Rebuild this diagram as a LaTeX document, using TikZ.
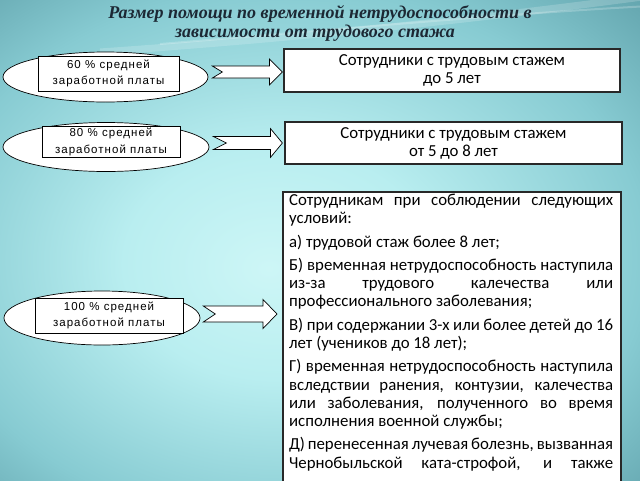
\documentclass[tikz,border=0pt]{standalone}
\usepackage{fontspec}
\setmainfont{Carlito}
\newfontfamily\titlefont{Liberation Serif}
\newfontfamily\smallfont[LetterSpace=9]{Liberation Sans}
\usetikzlibrary{calc,shapes.geometric}

\definecolor{titlecol}{RGB}{28,40,52}
\definecolor{framecol}{RGB}{40,40,40}
\definecolor{bgA}{RGB}{205,246,246}
\definecolor{bgB}{RGB}{185,238,240}
\definecolor{bgC}{RGB}{135,203,210}
\definecolor{bgD}{RGB}{85,150,160}
\definecolor{bgE}{RGB}{60,120,130}
\definecolor{bgF}{RGB}{45,95,105}
\pgfdeclareradialshading{bgshade}{\pgfpoint{-4bp}{-3bp}}{color(0bp)=(bgA); color(12bp)=(bgB); color(28bp)=(bgC); color(42bp)=(bgD); color(55bp)=(bgE); color(72bp)=(bgF)}

\newcommand{\blockarr}[6]{%
  \draw[barrow] ($(#1)+(0,-#4)$) -- ($(#2)+(-#3,-#4)$) -- ($(#2)+(-#3,-#5)$) -- (#2)
    -- ($(#2)+(-#3,#5)$) -- ($(#2)+(-#3,#4)$) -- ($(#1)+(0,#4)$) -- ($(#1)+(#6,0)$) -- cycle;}

\begin{document}
\begin{tikzpicture}[x=1pt,y=-1pt,
  ell/.style={ellipse, draw=black, line width=0.7pt, fill=white, inner sep=0pt},
  inbox/.style={draw=black, line width=0.7pt, fill=white, align=center, inner sep=0pt,
    font=\smallfont\fontsize{11.5}{16.5}\selectfont},
  mainbox/.style={draw=framecol, line width=1.2pt, fill=white, inner sep=0pt, align=center,
    font=\fontsize{16.8}{18}\selectfont},
  barrow/.style={draw=black, line width=0.7pt, fill=white, line join=miter},
  titletext/.style={font=\titlefont\bfseries\itshape\fontsize{18}{21}\selectfont, text=titlecol, inner sep=0pt}
]
\useasboundingbox (0,0) rectangle (640,480);
\clip (0,0) rectangle (640,480);
\shade[shading=bgshade] (0,0) rectangle (640,480);
% faint swooshes
\draw[white, opacity=.18, line width=7pt] (100,52) .. controls (300,38) and (470,20) .. (650,-4);
\draw[white, opacity=.22, line width=2pt] (160,44) .. controls (330,30) and (500,14) .. (650,6);

% title
\node[titletext] (t1) at (320,14) {Размер помощи по временной нетрудоспособности в};
\node[titletext] (t2) at (315,33) {зависимости от трудового стажа};

% ellipses
\node[ell, minimum width=205pt, minimum height=50pt] (e1) at (105.5,77) {};
\node[inbox, minimum width=141pt, minimum height=35pt] (r1) at (108.5,73.5) {60 \% средней\\заработной платы};
\node[ell, minimum width=206pt, minimum height=49pt] (e2) at (106,147) {};
\node[inbox, minimum width=138pt, minimum height=31pt] (r2) at (111,142) {80 \% средней\\заработной платы};
\node[ell, minimum width=196pt, minimum height=54pt] (e3) at (102,318) {};
\node[inbox, minimum width=148pt, minimum height=35pt] (r3) at (109,315.5) {100 \% средней\\заработной платы};

% boxes
\node[mainbox, minimum width=336pt, minimum height=43pt] (b1) at (452,70.5) {Сотрудники с трудовым стажем\\до 5 лет};
\node[mainbox, minimum width=337pt, minimum height=42pt] (b2) at (453.5,143) {Сотрудники с трудовым стажем\\от 5 до 8 лет};
\node[mainbox, minimum width=338pt, minimum height=318pt] (b3) at (452,351) {};
\node[anchor=north west, text width=324pt, inner sep=0pt, align=justify,
  font=\fontsize{16.8}{18.2}\selectfont] (t3) at ($(b3.north west)+(6.5,2.5)$) {%
  \hyphenpenalty=10000 \exhyphenpenalty=10000 \parskip=5.2pt
  Сотрудникам при соблюдении следующих\linebreak условий:\par
  а) трудовой стаж более 8 лет;\par
  Б) временная нетрудоспособность наступила\linebreak из-за трудового калечества или\linebreak профессионального заболевания;\par
  В) при содержании 3-х или более детей до 16\linebreak лет (учеников до 18 лет);\par
  Г) временная нетрудоспособность наступила\linebreak вследствии ранения, контузии, калечества\linebreak или заболевания, полученного во время\linebreak исполнения военной службы;\par
  \parfillskip=0pt
  Д) перенесенная лучевая болезнь, вызванная\linebreak Чернобыльской ката-строфой, и также\par};

% arrows
\coordinate (a1s) at ($(e1.east)+(4,-5)$);
\coordinate (a1e) at ($(b1.west)+(-1,1.5)$);
\blockarr{a1s}{a1e}{13}{6}{13}{10}
\coordinate (a2s) at ($(e2.east)+(4,-4)$);
\coordinate (a2e) at ($(b2.west)+(-2,0)$);
\blockarr{a2s}{a2e}{12}{6.5}{14.5}{13}
\coordinate (a3s) at ($(e3.east)+(3,-4)$);
\coordinate (a3e) at (277,314);
\blockarr{a3s}{a3e}{14}{8}{14.5}{12}
\end{tikzpicture}
\end{document}
